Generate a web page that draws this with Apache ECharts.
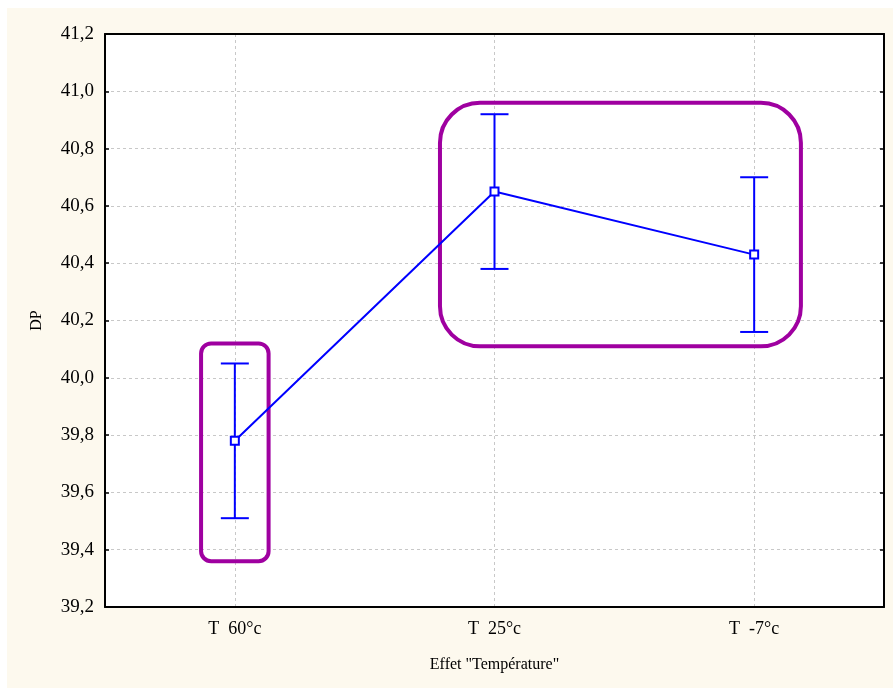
<!DOCTYPE html>
<html>
<head>
<meta charset="utf-8">
<script src="https://cdn.jsdelivr.net/npm/echarts@6/dist/echarts.min.js"></script>
<style>
  html, body { margin: 0; padding: 0; background: #fff; }
  #chart { width: 893px; height: 688px; }
</style>
</head>
<body>
<div id="chart"></div>
<script>
const categories = ["T  60°c", "T  25°c", "T  -7°c"];
const means = [39.78, 40.65, 40.43];
const lows = [39.51, 40.38, 40.16];
const highs = [40.05, 40.92, 40.70];

// highlight boxes: [x from, x to] in category index units, [y from, y to] in DP units
const boxes = [
  [-0.13, 0.13, 39.36, 40.12],
  [0.79, 2.18, 40.11, 40.96]
];
const boxRadius = [10, 40];

const chartDom = document.getElementById("chart");
const myChart = echarts.init(chartDom);
const font = "Liberation Serif";

const option = {
  animation: false,
  backgroundColor: "#fff",
  graphic: [
    {
      type: "rect",
      left: 7,
      top: 8,
      shape: { width: 886, height: 680 },
      style: { fill: "#fdf9ee" },
      z: -10,
      silent: true
    }
  ],
  grid: {
    left: 105,
    top: 34,
    right: 9,
    bottom: 81,
    show: true,
    backgroundColor: "#fff",
    borderWidth: 0
  },
  xAxis: [
    {
      type: "category",
      data: categories,
      boundaryGap: true,
      name: 'Effet "Température"',
      nameLocation: "middle",
      nameGap: 50,
      nameTextStyle: { fontFamily: font, fontSize: 16, color: "#000" },
      axisLine: { lineStyle: { color: "#000", width: 2 } },
      axisTick: { alignWithLabel: true, inside: false, length: 4, lineStyle: { color: "#000", width: 1.5 } },
      axisLabel: { fontFamily: font, fontSize: 18, color: "#000", margin: 13 },
      splitLine: { show: true, alignWithLabel: true, lineStyle: { color: "#c8c8c8", type: [3, 3], width: 1 } }
    },
    {
      type: "category",
      data: categories,
      position: "top",
      boundaryGap: true,
      axisLine: { lineStyle: { color: "#000", width: 2 } },
      axisTick: { alignWithLabel: true, inside: true, length: 4, lineStyle: { color: "#000", width: 1.5 } },
      axisLabel: { show: false },
      splitLine: { show: false }
    }
  ],
  yAxis: [
    {
      type: "value",
      min: 39.2,
      max: 41.2,
      interval: 0.2,
      name: "DP",
      nameLocation: "middle",
      nameGap: 60,
      nameTextStyle: { fontFamily: font, fontSize: 16, color: "#000" },
      axisLine: { show: true, lineStyle: { color: "#000", width: 2 } },
      axisTick: { show: true, inside: true, length: 4, lineStyle: { color: "#000", width: 1.5 } },
      axisLabel: {
        fontFamily: font,
        fontSize: 19,
        color: "#000",
        margin: 11,
        formatter: (v) => v.toFixed(1).replace(".", ",")
      },
      splitLine: { show: true, lineStyle: { color: "#c8c8c8", type: [3, 3], width: 1 } }
    },
    {
      type: "value",
      min: 39.2,
      max: 41.2,
      interval: 0.2,
      position: "right",
      axisLine: { show: true, lineStyle: { color: "#000", width: 2 } },
      axisTick: { show: true, inside: true, length: 4, lineStyle: { color: "#000", width: 1.5 } },
      axisLabel: { show: false },
      splitLine: { show: false }
    }
  ],
  series: [
    {
      name: "boxes",
      type: "custom",
      silent: true,
      z: 1,
      data: boxes.map((b, i) => [b[0], b[1], b[2], b[3], i]),
      renderItem: function (params, api) {
        const x0 = api.coord([0, 40])[0];
        const band = api.size([1, 0])[0];
        const xa = x0 + api.value(0) * band;
        const xb = x0 + api.value(1) * band;
        const yTop = api.coord([0, api.value(3)])[1];
        const yBot = api.coord([0, api.value(2)])[1];
        return {
          type: "rect",
          shape: { x: xa, y: yTop, width: xb - xa, height: yBot - yTop, r: boxRadius[api.value(4)] },
          style: { fill: "none", stroke: "#9f00a0", lineWidth: 4 }
        };
      }
    },
    {
      name: "errors",
      type: "custom",
      silent: true,
      z: 2,
      data: categories.map((c, i) => [i, lows[i], highs[i]]),
      renderItem: function (params, api) {
        const lo = api.coord([api.value(0), api.value(1)]);
        const hi = api.coord([api.value(0), api.value(2)]);
        const half = 14;
        const style = { stroke: "#0000ff", lineWidth: 2 };
        return {
          type: "group",
          children: [
            { type: "line", shape: { x1: lo[0], y1: lo[1], x2: hi[0], y2: hi[1] }, style: style },
            { type: "line", shape: { x1: hi[0] - half, y1: hi[1], x2: hi[0] + half, y2: hi[1] }, style: style },
            { type: "line", shape: { x1: lo[0] - half, y1: lo[1], x2: lo[0] + half, y2: lo[1] }, style: style }
          ]
        };
      }
    },
    {
      name: "DP",
      type: "line",
      z: 3,
      data: means,
      symbol: "rect",
      symbolSize: 8,
      itemStyle: { color: "#fff", borderColor: "#0000ff", borderWidth: 2 },
      lineStyle: { color: "#0000ff", width: 2 }
    }
  ]
};

myChart.setOption(option);
window.addEventListener("resize", myChart.resize);
</script>
</body>
</html>
